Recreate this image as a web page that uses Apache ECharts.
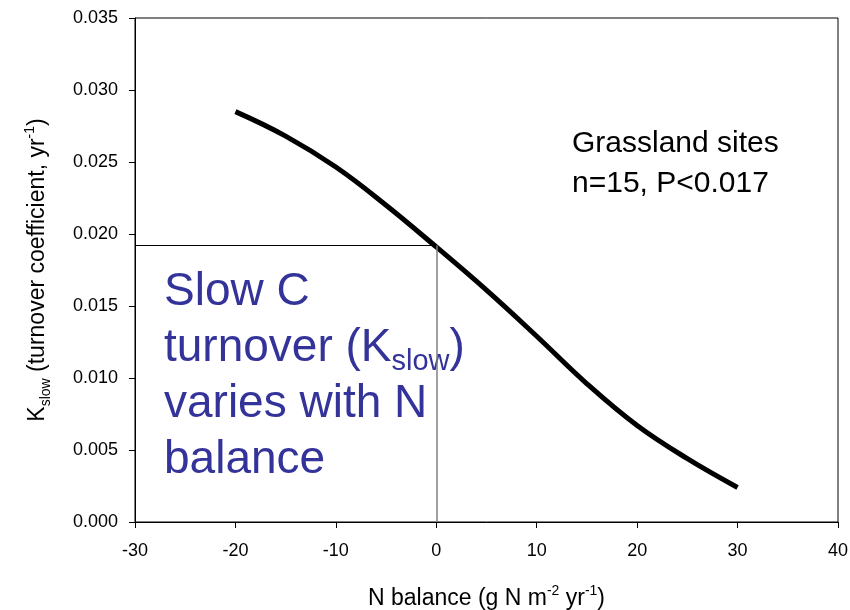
<!DOCTYPE html>
<html>
<head>
<meta charset="utf-8">
<script src="https://cdn.jsdelivr.net/npm/echarts@6/dist/echarts.min.js"></script>
<style>
  html, body { margin: 0; padding: 0; background: #fff; }
  #chart { width: 850px; height: 610px; }
</style>
</head>
<body>
<div id="chart"></div>
<script>
// fitted curve
const nBalance = [-20, -15, -10, -5, 0, 5, 10, 15, 20, 25, 30];
const kSlow = [0.0285, 0.0268, 0.02465, 0.0220, 0.0191, 0.0161, 0.0129, 0.0096, 0.0067, 0.0044, 0.0024];

// reference lines at N balance = 0
const refX = 0;
const refY = 0.0192;

const xTicks = { min: -30, max: 40, step: 10 };
const yTicks = { min: 0, max: 0.035, step: 0.005 };

const fontFam = 'Arial, "Liberation Sans", Helvetica, sans-serif';
const blue = '#333399';

const chart = echarts.init(document.getElementById('chart'));

const option = {
  animation: false,
  backgroundColor: '#fff',
  grid: {
    left: 135, right: 12, top: 18, bottom: 88,
    outerBoundsMode: 'none',
    show: true, borderColor: '#000', borderWidth: 1
  },
  xAxis: {
    type: 'value',
    min: xTicks.min, max: xTicks.max, interval: xTicks.step,
    name: '{b|N balance (g N m}{sup|-2}{b| yr}{sup|-1}{b|)}',
    nameLocation: 'middle',
    nameGap: 62,
    nameTextStyle: {
      rich: {
        b: { fontSize: 23, fontFamily: fontFam, color: '#000', lineHeight: 30 },
        sup: { fontSize: 14, fontFamily: fontFam, color: '#000', verticalAlign: 'top', lineHeight: 19 }
      }
    },
    axisLine: { onZero: false, lineStyle: { color: '#000', width: 1 } },
    axisTick: { length: 6, lineStyle: { color: '#000' } },
    axisLabel: { color: '#000', fontSize: 18, fontFamily: fontFam, margin: 20 },
    splitLine: { show: false }
  },
  yAxis: {
    type: 'value',
    min: yTicks.min, max: yTicks.max, interval: yTicks.step,
    name: '{b|K}{sub|slow}{b| (turnover coefficient, yr}{sup|-1}{b|)}',
    nameLocation: 'middle',
    nameRotate: 90,
    nameGap: 82,
    nameTextStyle: {
      rich: {
        b: { fontSize: 23, fontFamily: fontFam, color: '#000', lineHeight: 30 },
        sub: { fontSize: 14, fontFamily: fontFam, color: '#000', verticalAlign: 'bottom', lineHeight: 15 },
        sup: { fontSize: 14, fontFamily: fontFam, color: '#000', verticalAlign: 'top', lineHeight: 19 }
      }
    },
    axisLine: { onZero: false, lineStyle: { color: '#000', width: 1 } },
    axisTick: { length: 6, lineStyle: { color: '#000' } },
    axisLabel: {
      color: '#000', fontSize: 18, fontFamily: fontFam, margin: 17,
      formatter: v => v.toFixed(3)
    },
    splitLine: { show: false }
  },
  series: [
    {
      type: 'line',
      data: nBalance.map((x, i) => [x, kSlow[i]]),
      smooth: 0.4,
      showSymbol: false,
      lineStyle: { color: '#000', width: 5 },
      z: 3
    },
    {
      // guide lines drawn via markLine
      type: 'line',
      data: [],
      markLine: {
        silent: true,
        symbol: 'none',
        label: { show: false },
        data: [
          [
            { coord: [xTicks.min, refY], lineStyle: { color: '#000', width: 1, type: 'solid' } },
            { coord: [refX, refY] }
          ],
          [
            { coord: [refX, yTicks.min], lineStyle: { color: '#808080', width: 1.5, type: 'solid' } },
            { coord: [refX, refY] }
          ]
        ]
      },
      z: 2
    }
  ],
  graphic: [
    {
      type: 'text',
      left: 572, top: 124,
      style: {
        text: 'Grassland sites\nn=15, P<0.017',
        font: '30px ' + fontFam,
        fill: '#000',
        lineHeight: 40
      }
    },
    {
      type: 'text',
      left: 164, top: 269,
      style: {
        text: '{m|Slow C}\n{m|turnover (K}{s|slow}{m|)}\n{m|varies with N}\n{m|balance}',
        fill: blue,
        rich: {
          m: { fontSize: 46, fontFamily: fontFam, fill: blue, lineHeight: 56 },
          s: { fontSize: 29, fontFamily: fontFam, fill: blue, verticalAlign: 'bottom', lineHeight: 21 }
        }
      }
    }
  ]
};

chart.setOption(option);
</script>
</body>
</html>
